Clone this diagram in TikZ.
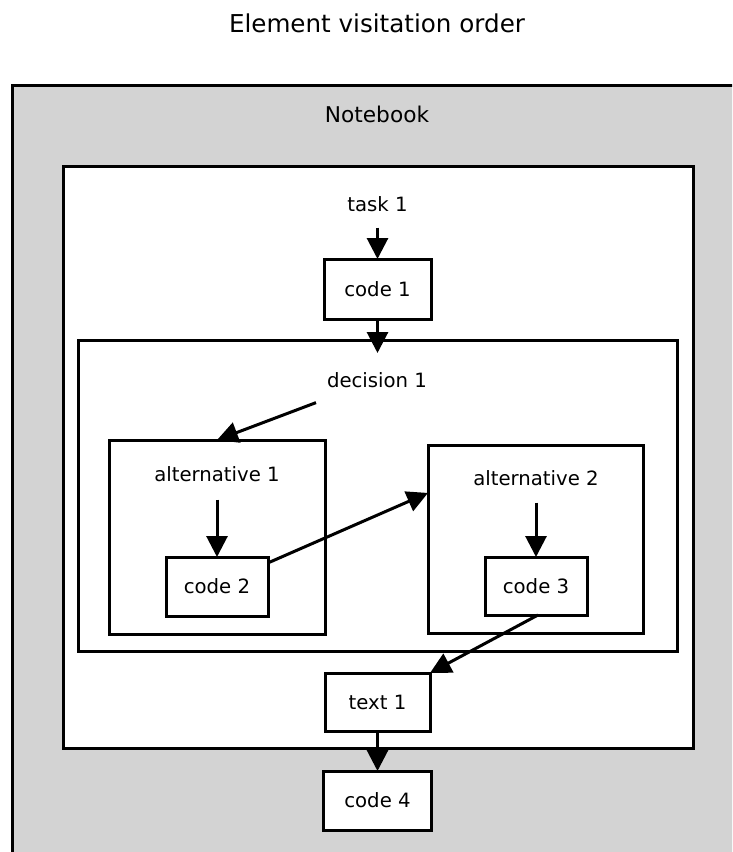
\documentclass[tikz,border=0pt]{standalone}
\usepackage{fontspec}
\setmainfont{DejaVu Sans}
\usetikzlibrary{arrows.meta,calc}
\definecolor{nbgray}{HTML}{D3D3D3}
\begin{document}
\begin{tikzpicture}[x=1pt,y=-1pt,
  cluster/.style={draw,line width=3pt,fill=white,inner sep=0pt,outer sep=0pt},
  cellbox/.style={draw,line width=3pt,fill=white,inner sep=0pt,outer sep=0pt,
    font=\fontsize{19.7}{22}\selectfont},
  lbl/.style={inner sep=0pt,outer sep=0pt,font=\fontsize{19.7}{22}\selectfont},
  flow/.style={line width=3pt,-{Triangle[length=21pt,width=21pt]}}
]
\useasboundingbox (0,0) rectangle (732,852);

% title
\node[inner sep=0pt,font=\fontsize{24.6}{28}\selectfont] (title) at (377,23) {Element visitation order};

% notebook cluster, running past the right and bottom edges
\begin{scope}
  \clip (0,0) rectangle (732,852);
  \draw[line width=3pt,fill=nbgray] (12,85) rectangle (780,900);
\end{scope}
\node[inner sep=0pt,font=\fontsize{21.7}{24}\selectfont] (nblabel) at (377,114) {Notebook};

% nested clusters
\node[cluster,minimum width=630pt,minimum height=582pt] (task) at (378,457) {};
\node[cluster,minimum width=599pt,minimum height=311pt] (decision) at (377.5,495.5) {};
\node[cluster,minimum width=216pt,minimum height=194pt] (alt1) at (217,537) {};
\node[cluster,minimum width=215pt,minimum height=188pt] (alt2) at (535.5,539) {};

% cluster labels
\node[lbl] (task1) at (377.5,204) {task 1};
\node[lbl] (dec1) at (377,380) {decision 1};
\node[lbl] (alt1lbl) at (217,474) {alternative 1};
\node[lbl] (alt2lbl) at (536,478) {alternative 2};

% cells
\node[cellbox,minimum width=107pt,minimum height=60pt] (code1) at (377.5,289) {code 1};
\node[cellbox,minimum width=102pt,minimum height=59pt] (code2) at (217,586.5) {code 2};
\node[cellbox,minimum width=102pt,minimum height=58pt] (code3) at (536,586) {code 3};
\node[cellbox,minimum width=105pt,minimum height=58pt] (text1) at (377.5,702) {text 1};
\node[cellbox,minimum width=108pt,minimum height=59pt] (code4) at (377.5,800.5) {code 4};

% visiting order
\coordinate (decentry) at (377.5,353);
\draw[flow] ([yshift=-16pt]task1.south) -- (code1.north);
\draw[flow] (code1.south) -- (decentry);
\draw[flow] ([xshift=-11pt,yshift=-15pt]dec1.south west) -- (alt1.north);
\draw[flow] ([yshift=-18pt]alt1lbl.south) -- (code2.north);
\draw[flow] ($(code2.north east)!0.1!(code2.south east)$) -- ($(alt2.north west)!0.255!(alt2.south west)$);
\draw[flow] ([yshift=-17pt]alt2lbl.south) -- (code3.north);
\draw[flow] ([xshift=2pt]code3.south) -- (text1.north east);
\draw[flow] (text1.south) -- (code4.north);
\end{tikzpicture}
\end{document}
